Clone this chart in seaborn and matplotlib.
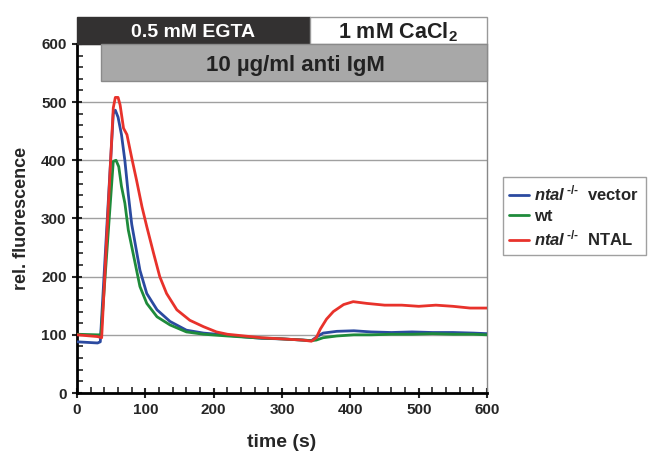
import numpy as np
import pandas as pd
import matplotlib
matplotlib.use("Agg")
import matplotlib.pyplot as plt
from matplotlib.patches import Rectangle
from matplotlib.ticker import MultipleLocator
import seaborn as sns

# traces: time (s) and relative fluorescence
vector_t = [0, 30, 34, 53, 56, 60, 65, 70, 75, 80, 85, 92, 102, 117, 136, 160, 185,
            214, 240, 270, 300, 330, 343, 350, 360, 380, 405, 430, 460, 490, 520,
            550, 580, 600]
vector_y = [88, 86, 88, 480, 486, 474, 444, 399, 341, 290, 257, 211, 171, 143, 123,
            108, 103, 100, 97, 94, 93, 91, 90, 96, 103, 106, 107, 105, 104, 105, 104,
            104, 103, 102]

wt_t = [0, 30, 35, 53, 57, 61, 65, 70, 75, 78, 85, 92, 102, 117, 136, 160, 185, 220,
        260, 300, 330, 343, 350, 360, 380, 405, 430, 460, 490, 520, 550, 580, 600]
wt_y = [101, 100, 100, 398, 400, 389, 355, 326, 280, 263, 223, 183, 154, 131, 117,
        105, 101, 98, 95, 93, 91, 90, 91, 95, 98, 100, 100, 101, 101, 102, 101, 101,
        100]

ntal_t = [0, 30, 36, 53, 56, 60, 63, 68, 73, 80, 87, 95, 102, 112, 121, 131, 146,
          165, 185, 204, 220, 245, 270, 300, 330, 343, 350, 356, 365, 375, 390, 404,
          424, 450, 475, 500, 525, 550, 575, 600]
ntal_y = [100, 97, 95, 490, 508, 508, 495, 455, 444, 404, 366, 320, 286, 240, 200,
          171, 143, 125, 114, 105, 101, 98, 95, 93, 91, 89, 95, 110, 127, 140, 152,
          157, 154, 151, 151, 149, 151, 149, 146, 146]

series_names = [r"$\mathit{ntal}^{\,\text{-/-}}$  vector", "wt",
                r"$\mathit{ntal}^{\,\text{-/-}}$  NTAL"]
series_colors = ["#2b4aa0", "#1f8b3b", "#e8322b"]

df = pd.concat([
    pd.DataFrame({"time": t, "value": v, "cell": name})
    for t, v, name in zip([vector_t, wt_t, ntal_t], [vector_y, wt_y, ntal_y],
                          series_names)
])

sns.set_style("white")
plt.rcParams["font.family"] = ["Liberation Sans", "DejaVu Sans"]
plt.rcParams["font.weight"] = "bold"
plt.rcParams["mathtext.fontset"] = "custom"
plt.rcParams["mathtext.it"] = "Liberation Sans:bold:italic"
plt.rcParams["mathtext.rm"] = "Liberation Sans:bold"
plt.rcParams["mathtext.bf"] = "Liberation Sans:bold"

fig = plt.figure(figsize=(6.53, 4.57), dpi=100)
ax = fig.add_axes([0.118, 0.140, 0.628, 0.764])

sns.lineplot(data=df, x="time", y="value", hue="cell", palette=series_colors,
             hue_order=series_names, linewidth=2, ax=ax, zorder=3,
             sort=False, estimator=None)

ax.set_xlim(0, 600)
ax.set_ylim(0, 600)
ax.xaxis.set_major_locator(MultipleLocator(100))
ax.xaxis.set_minor_locator(MultipleLocator(20))
ax.yaxis.set_major_locator(MultipleLocator(100))
ax.yaxis.set_minor_locator(MultipleLocator(20))
ax.tick_params(which="major", direction="inout", length=7, width=1.5,
               labelsize=11, pad=4)
ax.tick_params(which="minor", direction="in", length=4, width=1.2)
ax.tick_params(axis="x", which="both", bottom=True)
ax.tick_params(axis="y", which="both", left=True)
for lab in ax.get_xticklabels() + ax.get_yticklabels():
    lab.set_fontweight("bold")

ax.grid(axis="y", which="major", color="#a0a0a0", linewidth=1)
ax.set_axisbelow(True)
for side in ["left", "bottom"]:
    ax.spines[side].set_color("black")
    ax.spines[side].set_linewidth(2)
ax.spines["right"].set_color("#888888")
ax.spines["right"].set_linewidth(1)
ax.spines["top"].set_visible(False)

ax.set_xlabel("time (s)", fontsize=14, fontweight="bold", labelpad=12)
ax.set_ylabel("rel. fluorescence", fontsize=13, fontweight="bold", labelpad=8)

# treatment bars above the plot
ax.add_patch(Rectangle((0, 600), 341, 46, facecolor="#333131", edgecolor="#333131",
                       clip_on=False, zorder=5))
ax.add_patch(Rectangle((341, 600), 259, 46, facecolor="white", edgecolor="#999999",
                       linewidth=1, clip_on=False, zorder=5))
ax.add_patch(Rectangle((35, 536), 565, 64, facecolor="#a8a8a8", edgecolor="#8a8a8a",
                       linewidth=1, clip_on=False, zorder=5))
ax.text(170, 620, "0.5 mM EGTA", color="white", fontsize=14, fontweight="bold",
        ha="center", va="center", zorder=6)
ax.text(470, 620, r"1 mM CaCl$_\mathrm{2}$", color="#222222", fontsize=15.5,
        fontweight="bold", ha="center", va="center", zorder=6)
ax.text(319, 563, "10 µg/ml anti IgM", color="#222222", fontsize=16,
        fontweight="bold", ha="center", va="center", zorder=6)

leg = ax.legend(loc="upper left", bbox_to_anchor=(0.770, 0.612),
                bbox_transform=fig.transFigure, borderaxespad=0, fancybox=False,
                frameon=True, edgecolor="#888888", handlelength=1.2,
                handletextpad=0.3, labelspacing=0.3, borderpad=0.4,
                prop={"size": 12, "weight": "bold"})
leg.get_frame().set_linewidth(1)
for line in leg.get_lines():
    line.set_linewidth(2)

fig.savefig("out.png", dpi=100)
